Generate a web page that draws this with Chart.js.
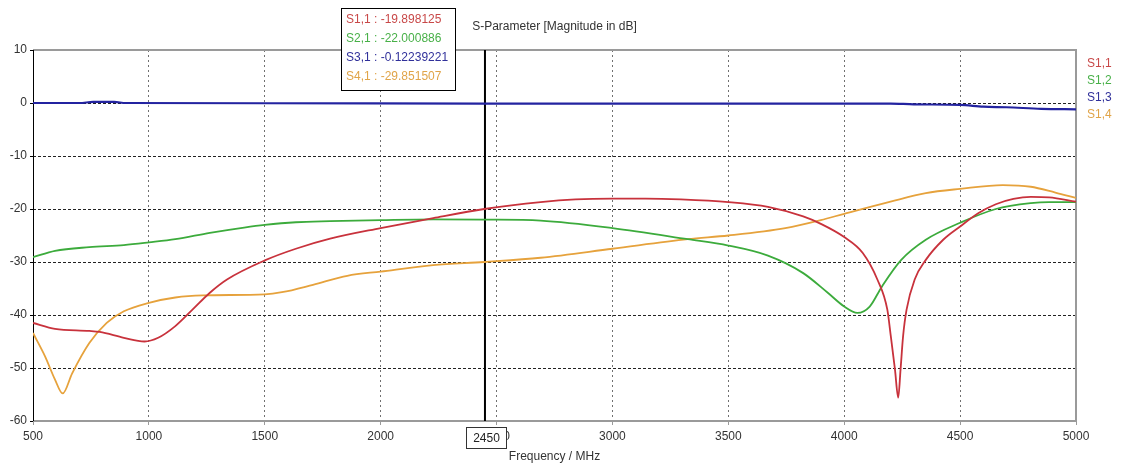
<!DOCTYPE html>
<html>
<head>
<meta charset="utf-8">
<script src="https://cdn.jsdelivr.net/npm/chart.js@4"></script>
<style>
  html, body { margin: 0; padding: 0; background: #fff; }
  #wrap { width: 1121px; height: 466px; }
</style>
</head>
<body>
<div id="wrap"><canvas id="sparam"></canvas></div>
<script>
// S-parameter curves (MHz / dB)
var s11Freq = [500, 595, 743, 788, 892, 981, 1040, 1114, 1188, 1263, 1337, 1500, 1634, 1782, 2000, 2227, 2447, 2690, 2841, 3000, 3143, 3295, 3500, 3671, 3823, 3899, 4000, 4080, 4143, 4186, 4201, 4219, 4233, 4243, 4254, 4269, 4304, 4352, 4427, 4500, 4578, 4654, 4730, 4805, 4884, 5000];
var s11Db = [-41.5, -42.6, -43.0, -43.2, -44.3, -45.0, -44.3, -42.1, -39.0, -35.8, -33.3, -29.7, -27.5, -25.6, -23.6, -21.7, -20.0, -18.7, -18.2, -18.05, -18.05, -18.2, -18.7, -19.6, -21.4, -22.8, -25.3, -28.3, -33.3, -39.0, -44.0, -50.3, -55.6, -50.3, -44.0, -39.0, -33.3, -29.6, -25.8, -23.3, -20.8, -19.1, -18.1, -17.7, -17.8, -18.6];

var s12Freq = [500, 595, 743, 892, 1000, 1114, 1263, 1411, 1500, 1634, 1782, 2000, 2227, 2447, 2690, 3000, 3325, 3500, 3671, 3823, 3929, 4000, 4057, 4110, 4163, 4246, 4352, 4500, 4654, 4805, 4884, 5000];
var s12Db = [-29.1, -27.9, -27.2, -26.8, -26.3, -25.7, -24.5, -23.5, -23.0, -22.5, -22.3, -22.1, -21.95, -22.0, -22.2, -23.6, -25.7, -26.9, -28.8, -32.1, -35.8, -38.4, -39.6, -38.4, -34.6, -29.6, -25.8, -22.6, -20.0, -18.9, -18.7, -18.7];

var s13Freq = [500, 700, 760, 850, 900, 1500, 2450, 3000, 3500, 4000, 4200, 4300, 4500, 4600, 4700, 4850, 5000];
var s13Db = [0, 0, 0.2, 0.2, 0, -0.05, -0.12, -0.1, -0.1, -0.1, -0.1, -0.25, -0.35, -0.7, -0.8, -1.1, -1.2];

var s14Freq = [500, 552, 595, 628, 669, 743, 818, 892, 1000, 1114, 1233, 1500, 1574, 1708, 1856, 2000, 2227, 2447, 2690, 3000, 3325, 3500, 3746, 3899, 4000, 4200, 4352, 4500, 4684, 4805, 4911, 5000];
var s14Db = [-43.4, -47.8, -52.2, -54.8, -51.0, -45.3, -41.5, -39.3, -37.7, -36.7, -36.3, -36.1, -35.7, -34.3, -32.6, -31.8, -30.6, -30.0, -29.2, -27.5, -25.7, -25.0, -23.6, -22.1, -20.9, -18.6, -17.0, -16.2, -15.5, -15.8, -16.9, -17.9];

var seriesNames = ['S1,1', 'S1,2', 'S1,3', 'S1,4'];
var seriesColors = ['#c8323c', '#3cab3c', '#2323a0', '#e6a23c'];
var legendColors = ['#c84848', '#48b048', '#30309a', '#e0a448'];
var seriesWidths = [1.8, 1.8, 2.2, 1.8];

// marker readout at 2450 MHz
var markerFreq = 2450;
var markerNames = ['S1,1', 'S2,1', 'S3,1', 'S4,1'];
var markerValues = ['-19.898125', '-22.000886', '-0.12239221', '-29.851507'];

var chartTitle = 'S-Parameter [Magnitude in dB]';
var xTitle = 'Frequency / MHz';

var xMin = 500, xMax = 5000, xStep = 500;
var yMin = -60, yMax = 10, yStep = 10;

var FONT = 'Liberation Sans';

function toPoints(xs, ys) {
    return xs.map(function (x, i) { return {x: x, y: ys[i]}; });
}

var curves = [[s11Freq, s11Db], [s12Freq, s12Db], [s13Freq, s13Db], [s14Freq, s14Db]];

var datasets = curves.map(function (c, i) {
    return {
        label: seriesNames[i],
        data: toPoints(c[0], c[1]),
        borderColor: seriesColors[i],
        borderWidth: seriesWidths[i],
        pointRadius: 0,
        cubicInterpolationMode: 'monotone',
        fill: false
    };
});

// vertical marker line
datasets.push({
    label: 'marker',
    data: [{x: markerFreq, y: yMax}, {x: markerFreq, y: yMin}],
    borderColor: '#000',
    borderWidth: 2,
    pointRadius: 0,
    fill: false
});

var framePlugin = {
    id: 'frame',
    beforeDatasetsDraw: function (chart) {
        var a = chart.chartArea, ctx = chart.ctx;
        ctx.save();
        ctx.strokeStyle = '#9a9a9a';
        ctx.lineWidth = 2;
        ctx.beginPath();
        ctx.moveTo(a.left, a.top); ctx.lineTo(a.right, a.top);
        ctx.lineTo(a.right, a.bottom); ctx.lineTo(a.left, a.bottom);
        ctx.stroke();
        ctx.strokeStyle = '#000';
        ctx.lineWidth = 1;
        ctx.beginPath();
        ctx.moveTo(a.left + 0.5, a.top); ctx.lineTo(a.left + 0.5, a.bottom);
        ctx.stroke();
        ctx.restore();
    }
};

var extrasPlugin = {
    id: 'extras',
    afterDraw: function (chart) {
        var a = chart.chartArea, ctx = chart.ctx;
        var mx = chart.scales.x.getPixelForValue(markerFreq);
        ctx.save();
        ctx.font = '12px "' + FONT + '"';
        ctx.textBaseline = 'middle';

        // title centred over the plot
        ctx.textAlign = 'center';
        ctx.fillStyle = '#333';
        ctx.fillText(chartTitle, (a.left + a.right) / 2, 27);

        // legend on the right
        ctx.textAlign = 'left';
        seriesNames.forEach(function (n, i) {
            ctx.fillStyle = legendColors[i];
            ctx.fillText(n, a.right + 11, a.top + 14 + i * 17);
        });

        // marker readout box
        var bx = Math.round(mx) - 144, by = 8, bw = 114, bh = 82;
        ctx.fillStyle = '#fff';
        ctx.fillRect(bx, by, bw, bh);
        ctx.strokeStyle = '#000';
        ctx.lineWidth = 1;
        ctx.strokeRect(bx + 0.5, by + 0.5, bw, bh);
        markerNames.forEach(function (n, i) {
            ctx.fillStyle = legendColors[i];
            ctx.fillText(n + ' : ' + markerValues[i], bx + 5, by + 12 + i * 19);
        });

        // boxed marker frequency on the x axis
        var lx = Math.round(mx) - 19, ly = a.bottom + 6, lw = 40, lh = 21;
        ctx.fillStyle = '#fff';
        ctx.fillRect(lx, ly, lw, lh);
        ctx.strokeStyle = '#333';
        ctx.strokeRect(lx + 0.5, ly + 0.5, lw, lh);
        ctx.fillStyle = '#222';
        ctx.textAlign = 'center';
        ctx.fillText(String(markerFreq), lx + lw / 2 + 0.5, ly + lh / 2 + 1);
        ctx.restore();
    }
};

new Chart(document.getElementById('sparam').getContext('2d'), {
    type: 'line',
    data: {datasets: datasets},
    options: {
        responsive: true,
        maintainAspectRatio: false,
        animation: false,
        layout: {padding: {left: 0, right: 45, top: 50, bottom: 0}},
        plugins: {
            legend: {display: false},
            tooltip: {enabled: false},
            title: {display: false}
        },
        scales: {
            x: {
                type: 'linear',
                min: xMin,
                max: xMax,
                afterFit: function (s) { s.height = 45; },
                ticks: {
                    stepSize: xStep,
                    color: '#333',
                    padding: 4,
                    maxRotation: 0,
                    font: {family: FONT, size: 12},
                    callback: function (v) { return String(v); }
                },
                grid: {
                    color: '#707070',
                    tickLength: 4,
                    tickColor: '#9a9a9a'
                },
                border: {display: false, dash: [2, 3]},
                title: {
                    display: true,
                    text: xTitle,
                    color: '#333',
                    font: {family: FONT, size: 12},
                    padding: {top: 0, bottom: 2}
                }
            },
            y: {
                min: yMin,
                max: yMax,
                afterFit: function (s) { s.width = 33; },
                ticks: {
                    stepSize: yStep,
                    color: '#333',
                    padding: 3,
                    font: {family: FONT, size: 12}
                },
                grid: {
                    color: '#222',
                    tickLength: 3,
                    tickColor: '#000'
                },
                border: {display: false, dash: [3, 2]}
            }
        }
    },
    plugins: [framePlugin, extrasPlugin]
});
</script>
</body>
</html>
